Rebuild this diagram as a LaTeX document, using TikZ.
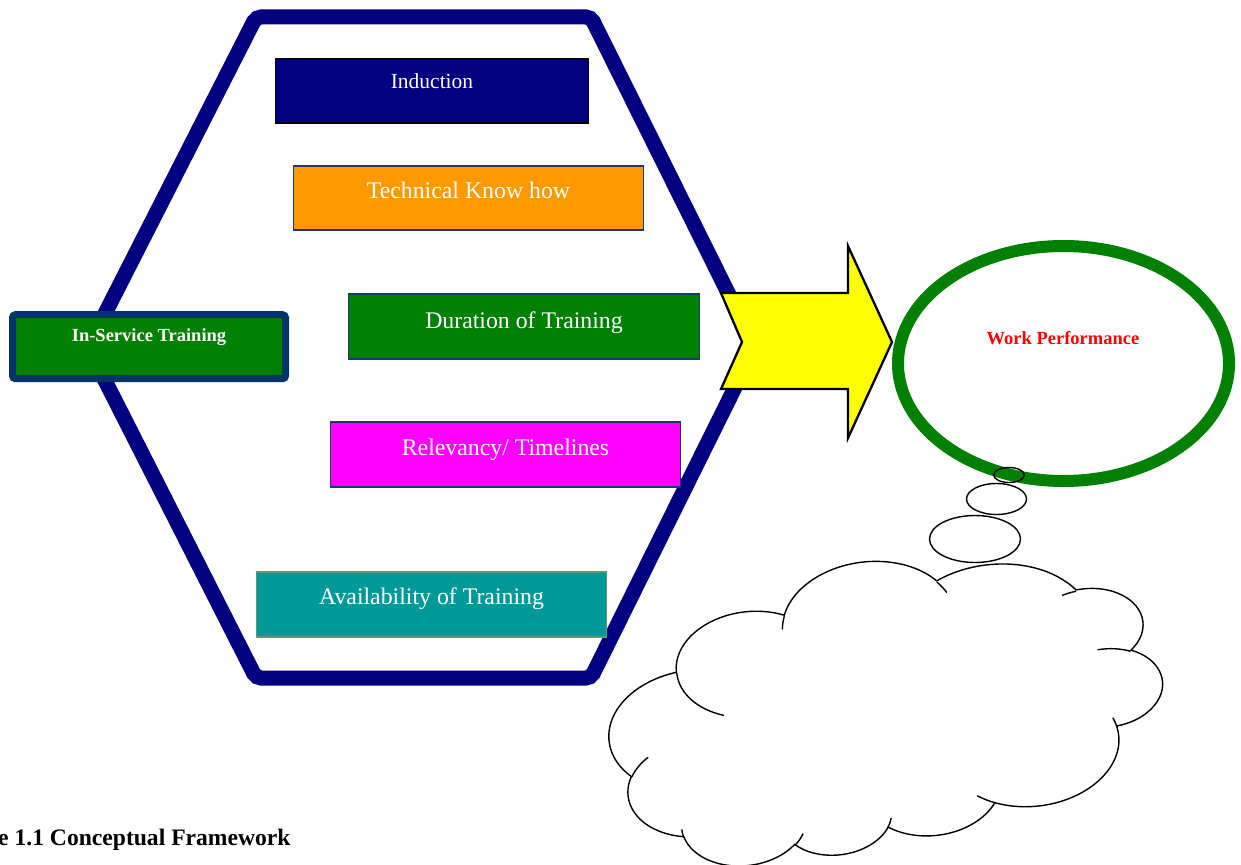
\documentclass[tikz,border=0pt]{standalone}
\usepackage{fontspec}
\setmainfont{Liberation Serif}
\usetikzlibrary{shapes.geometric}

\definecolor{hexnavy}{RGB}{0,0,128}
\definecolor{frameblue}{RGB}{0,51,102}
\definecolor{boxedge}{RGB}{31,56,100}
\definecolor{leafgreen}{RGB}{0,128,0}
\definecolor{orangefill}{RGB}{255,153,0}
\definecolor{pinkfill}{RGB}{255,0,255}
\definecolor{tealfill}{RGB}{0,153,153}
\definecolor{tealedge}{RGB}{84,160,110}
\definecolor{arrowyellow}{RGB}{255,255,0}

\tikzset{
  factor/.style={rectangle, draw=boxedge, line width=1.3pt, inner sep=0pt,
    text=white, anchor=base, font=\fontsize{23.8}{28}\selectfont},
  cloudline/.style={draw=black, line width=1.4pt},
  bubble/.style={draw=black, line width=1.4pt},
}

\begin{document}
\begin{tikzpicture}[x=1pt, y=-1pt]
\useasboundingbox (0,0) rectangle (1241,864);

% hexagonal frame
\draw[hexnavy, line width=15pt, rounded corners=5pt]
  (256,17) -- (591,17) -- (755,347) -- (591,678) -- (256,678) -- (88,347) -- cycle;

% training factors
\node[factor, fill=hexnavy, draw=black, minimum width=313pt,
      text height=30pt, text depth=34pt, font=\fontsize{21.5}{26}\selectfont]
  (induction) at (432,89) {Induction};
\node[factor, fill=orangefill, minimum width=350pt, text height=32pt, text depth=32pt]
  (technical) at (468.5,198) {Technical Know how};
\node[factor, fill=leafgreen, minimum width=351pt, text height=34pt, text depth=31pt]
  (duration) at (524,328) {Duration of Training};
\node[factor, fill=pinkfill, minimum width=350pt, text height=33pt, text depth=32pt]
  (relevancy) at (505.5,455) {Relevancy/ Timelines};
\node[factor, fill=tealfill, draw=tealedge, minimum width=350pt, text height=32pt, text depth=33pt]
  (availability) at (431.5,604) {Availability of Training};

% main concept box
\node[rectangle, rounded corners=3pt, draw=frameblue, line width=7pt, fill=leafgreen,
      inner sep=0pt, minimum width=273pt, text height=27pt, text depth=37pt,
      text=white, anchor=base, font=\bfseries\fontsize{18.5}{22}\selectfont]
  (inservice) at (149,341.7) {In-Service Training};

% block arrow
\draw[fill=arrowyellow, draw=black, line width=2.3pt, line join=miter]
  (721,293) -- (848,293) -- (848,246) -- (892,342) -- (848,438) -- (848,389)
  -- (721,389) -- (742,342) -- cycle;

% outcome ellipse
\node[ellipse, draw=leafgreen, line width=12pt, minimum width=331pt,
      minimum height=235pt, inner sep=0pt] (performance) at (1063.5,363.5) {};
\node[anchor=base, inner sep=0pt, text=red, font=\bfseries\fontsize{18.5}{22}\selectfont]
  (performancetext) at (1063,344) {Work Performance};

% thought bubbles
\draw[bubble] (1009,475) ellipse [x radius=15.3, y radius=7.5];
\draw[bubble] (996.5,499) ellipse [x radius=30, y radius=15.5];
\draw[bubble] (975,539) ellipse [x radius=45.5, y radius=23.5];

% cloud: outline drawn in a 432 x 432 frame, turned upside down and tilted
\begin{scope}[shift={(885,705.5)}, rotate=6.7, xscale=-556/432, yscale=-288/432,
              shift={(-216,-216)}]
\draw[cloudline] (39.00,143.70)
  arc[start angle=172.25, delta angle=128.11, x radius=67.53, y radius=91.90]
  arc[start angle=-152.02, delta angle=106.56, x radius=53.33, y radius=72.67]
  arc[start angle=-153.49, delta angle=116.17, x radius=43.65, y radius=59.45]
  arc[start angle=-139.72, delta angle=129.50, x radius=48.57, y radius=65.95]
  arc[start angle=-74.77, delta angle=97.98, x radius=53.33, y radius=72.73]
  arc[start angle=-37.53, delta angle=119.39, x radius=67.75, y radius=92.20]
  arc[start angle=0.46, delta angle=121.51, x radius=57.85, y radius=78.67]
  arc[start angle=16.85, delta angle=129.38, x radius=67.52, y radius=92.15]
  arc[start angle=58.98, delta angle=91.21, x radius=77.20, y radius=105.43]
  arc[start angle=83.31, delta angle=139.81, x radius=43.60, y radius=59.18]
  arc[start angle=120.36, delta angle=143.75, x radius=43.45, y radius=59.45]
  -- cycle;
\draw[cloudline]
  (46.93,261.77) arc[start angle=85.55, delta angle=34.81, x radius=43.45, y radius=59.45]
  (69.28,348.99) arc[start angle=68.23, delta angle=15.08, x radius=43.60, y radius=59.18]
  (164.78,390.90) arc[start angle=146.23, delta angle=12.25, x radius=67.52, y radius=92.15]
  (288.27,347.51) arc[start angle=4.74, delta angle=12.11, x radius=67.52, y radius=92.15]
  (341.29,229.54) arc[start angle=-64.01, delta angle=64.47, x radius=57.85, y radius=78.67]
  (417.98,153.54) arc[start angle=23.21, delta angle=26.43, x radius=53.33, y radius=72.73]
  (383.24,54.26) arc[start angle=-10.22, delta angle=11.04, x radius=48.57, y radius=65.95]
  (290.78,39.52) arc[start angle=-156.28, delta angle=16.56, x radius=48.57, y radius=65.95]
  (221.41,47.20) arc[start angle=-167.72, delta angle=14.23, x radius=43.65, y radius=59.45]
  (140.00,51.92) arc[start angle=-59.64, delta angle=13.90, x radius=67.53, y radius=91.90]
  (41.27,157.89) arc[start angle=163.19, delta angle=9.06, x radius=67.53, y radius=91.90];
\end{scope}

% caption
\node[anchor=base west, inner sep=0pt, font=\bfseries\fontsize{23.6}{28}\selectfont]
  (caption) at (-2,845) {e 1.1 Conceptual Framework};
\end{tikzpicture}
\end{document}
